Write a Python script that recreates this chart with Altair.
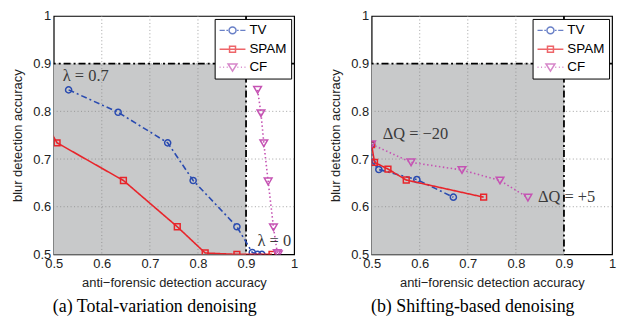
import altair as alt
import pandas as pd

series_names = ["TV", "SPAM", "CF"]
series_colors = ["#2a4bb0", "#e8252b", "#c553b3"]
series_shapes = ["circle", "square", "triangle-down"]
series_dash = [[6, 3, 2, 3], [1, 0], [1.5, 2.5]]
series_size = [38, 34, 60]

# panel (a): total-variation denoising
tv_a_x = [0.531, 0.634, 0.737, 0.790, 0.881, 0.913, 0.924, 0.933]
tv_a_y = [0.845, 0.798, 0.734, 0.655, 0.558, 0.504, 0.500, 0.500]
spam_a_x = [0.480, 0.507, 0.645, 0.757, 0.815, 0.881, 0.954]
spam_a_y = [0.780, 0.734, 0.655, 0.558, 0.503, 0.500, 0.500]
cf_a_x = [0.924, 0.931, 0.937, 0.946, 0.957, 0.965, 0.967]
cf_a_y = [0.845, 0.796, 0.733, 0.653, 0.557, 0.503, 0.500]
ann_a_text = ["λ = 0.7", "λ = 0"]
ann_a_x = [0.519, 0.924]
ann_a_y = [0.875, 0.527]

# panel (b): shifting-based denoising
tv_b_x = [0.500, 0.501, 0.515, 0.594, 0.670]
tv_b_y = [0.730, 0.693, 0.678, 0.657, 0.620]
spam_b_x = [0.500, 0.506, 0.534, 0.572, 0.733]
spam_b_y = [0.730, 0.693, 0.679, 0.656, 0.620]
cf_b_x = [0.500, 0.582, 0.688, 0.767, 0.825]
cf_b_y = [0.731, 0.693, 0.677, 0.655, 0.619]
ann_b_text = ["ΔQ = −20", "ΔQ = +5"]
ann_b_x = [0.523, 0.846]
ann_b_y = [0.752, 0.621]

axis_ticks = [0.5, 0.6, 0.7, 0.8, 0.9, 1.0]
grid_vals = [0.6, 0.7, 0.8, 0.9]
region_lo, region_hi = [0.5], [0.9]
threshold = [0.9]
domain = [0.5, 1.0]

captions = ["(a) Total-variation denoising", "(b) Shifting-based denoising"]

# legend symbols (line segment + marker) as custom paths, drawn from -1 to 3
tv_sym = ("M-1,0H-0.2M0.05,0H0.3M1.7,0H1.95M2.2,0H3"
          "M0.46,0A0.54,0.54 0 1,0 1.54,0A0.54,0.54 0 1,0 0.46,0")
spam_sym = "M-1,0H3M0.54,-0.46H1.46V0.46H0.54Z"
cf_sym = ("M-1,0H-0.85M-0.45,0H-0.3M0.1,0H0.25M1.75,0H1.9M2.3,0H2.45M2.85,0H3"
          "M0.31,-0.5H1.69L1,0.62Z")
legend_syms = [tv_sym, spam_sym, cf_sym]

label_expr = "datum.value == 1 ? '1' : format(datum.value, '.1f')"
sc = alt.Scale(domain=domain, nice=False, zero=False)
x_axis = alt.Axis(values=axis_ticks, title="anti−forensic detection accuracy", grid=False,
                  ticks=False, domain=False, labelPadding=3, titlePadding=6, labelExpr=label_expr,
                  labelFlush=False, labelOverlap=False)
y_axis = alt.Axis(values=axis_ticks, title="blur detection accuracy", grid=False,
                  ticks=False, domain=False, labelPadding=3, titlePadding=8, labelExpr=label_expr,
                  labelFlush=False, labelOverlap=False)


def X(f):
    return alt.X(f, type="quantitative", scale=sc, axis=x_axis)


def Y(f):
    return alt.Y(f, type="quantitative", scale=sc, axis=y_axis)


def panel(xs_list, ys_list, ann_text, ann_x, ann_y, caption):
    layers = []
    region = pd.DataFrame({"x0": region_lo, "x1": region_hi, "y0": region_lo, "y1": region_hi})
    layers.append(alt.Chart(region).mark_rect(color="#c8c9ca").encode(
        x=X("x0"), x2="x1", y=Y("y0"), y2="y1"))
    grid = pd.DataFrame({"g": grid_vals})
    layers.append(alt.Chart(grid).mark_rule(color="#8a8a8a", strokeWidth=0.8, strokeDash=[1, 2.5]).encode(x=X("g")))
    layers.append(alt.Chart(grid).mark_rule(color="#8a8a8a", strokeWidth=0.8, strokeDash=[1, 2.5]).encode(y=Y("g")))
    thr = pd.DataFrame({"t": threshold})
    layers.append(alt.Chart(thr).mark_rule(color="black", strokeWidth=1.8, strokeDash=[7, 3, 2, 3]).encode(x=X("t")))
    layers.append(alt.Chart(thr).mark_rule(color="black", strokeWidth=1.8, strokeDash=[7, 3, 2, 3]).encode(y=Y("t")))
    for i, name in enumerate(series_names):
        df = pd.DataFrame({"x": xs_list[i], "y": ys_list[i], "i": list(range(len(xs_list[i])))})
        layers.append(alt.Chart(df).mark_line(color=series_colors[i], strokeWidth=1.6,
                                              strokeDash=series_dash[i], clip=True).encode(
            x=X("x"), y=Y("y"), order="i:Q"))
        layers.append(alt.Chart(df).mark_point(color=series_colors[i], shape=series_shapes[i],
                                               filled=False, strokeWidth=1.5, size=series_size[i],
                                               opacity=1, clip=True).encode(x=X("x"), y=Y("y")))
    ann = pd.DataFrame({"t": ann_text, "x": ann_x, "y": ann_y})
    layers.append(alt.Chart(ann).mark_text(font="Liberation Serif", fontSize=16.5, color="#3a3a3a",
                                           align="left", baseline="middle").encode(
        x=X("x"), y=Y("y"), text="t:N"))
    leg = pd.DataFrame({"series": series_names, "lx": [0.7, 0.7, 0.7], "ly": [0.7, 0.7, 0.7]})
    layers.append(alt.Chart(leg).transform_filter("false").mark_point(filled=False, strokeWidth=1.5).encode(
        x=X("lx"), y=Y("ly"),
        color=alt.Color("series:N", scale=alt.Scale(domain=series_names, range=series_colors),
                        legend=alt.Legend(title=None, orient="top-right", offset=3,
                                          fillColor="white", strokeColor="black",
                                          padding=4, rowPadding=4, labelFont="Liberation Sans",
                                          labelFontSize=13.5, labelColor="black",
                                          symbolSize=169, symbolStrokeWidth=1.5, labelOffset=16)),
        shape=alt.Shape("series:N", scale=alt.Scale(domain=series_names, range=legend_syms))))
    return alt.layer(*layers).properties(
        width=242, height=240,
        title=alt.TitleParams(text=caption, orient="bottom", font="Liberation Serif", fontSize=18,
                              fontWeight="normal", anchor="middle", frame="bounds", offset=9,
                              color="black"))


left = panel([tv_a_x, spam_a_x, cf_a_x], [tv_a_y, spam_a_y, cf_a_y], ann_a_text, ann_a_x, ann_a_y, captions[0])
right = panel([tv_b_x, spam_b_x, cf_b_x], [tv_b_y, spam_b_y, cf_b_y], ann_b_text, ann_b_x, ann_b_y, captions[1])

chart = alt.hconcat(left, right, spacing=30).resolve_scale(
    color="independent", shape="independent"
).resolve_legend(color="independent", shape="independent").properties(
    padding={"left": 3, "top": 0, "right": 2, "bottom": 2}
).configure_view(stroke="black", strokeWidth=1.2).configure_axis(
    labelFont="Liberation Sans", labelFontSize=13, labelColor="#222",
    titleFont="Liberation Sans", titleFontSize=13, titleFontWeight="normal", titleColor="#222"
)

chart.save("out.html", embed_options={"renderer": "svg", "actions": False})
